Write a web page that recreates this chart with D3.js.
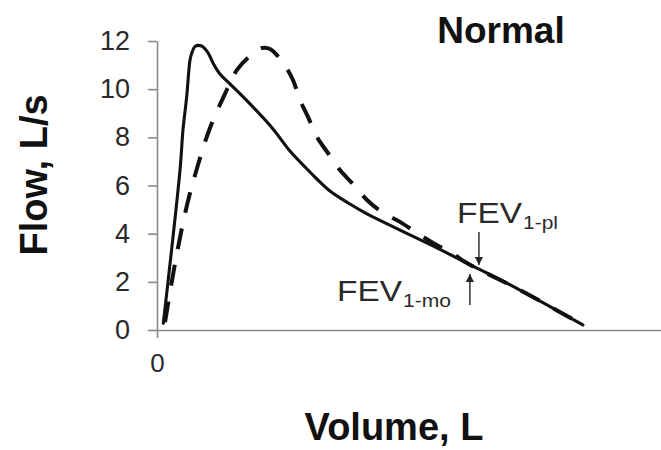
<!DOCTYPE html>
<html>
<head>
<meta charset="utf-8">
<script src="https://cdn.jsdelivr.net/npm/d3@7"></script>
<style>
  html, body { margin: 0; padding: 0; background: #fff; }
  svg { display: block; }
  text { font-family: Arial, "Liberation Sans", sans-serif; }
</style>
</head>
<body>
<script>
// Flow-volume loops: solid = measured curve, dashed = comparison curve
const solidVolume = [0.089, 0.324, 0.366, 0.418, 0.465, 0.489, 0.535, 0.63, 0.723, 0.789, 0.887, 1.028, 1.31, 1.634, 1.873, 2.155, 2.437, 2.718, 2.958, 3.423, 3.887, 4.366, 5.113, 6.0];
const solidFlow   = [0.28, 6.64, 8.31, 9.68, 11.21, 11.49, 11.77, 11.79, 11.49, 11.09, 10.63, 10.22, 9.39, 8.35, 7.43, 6.56, 5.77, 5.23, 4.82, 4.15, 3.49, 2.78, 1.66, 0.21];

const dashedVolume = [0.113, 0.268, 0.423, 0.577, 0.746, 0.944, 1.127, 1.31, 1.479, 1.592, 1.775, 1.915, 2.014, 2.127, 2.254, 2.408, 2.577, 2.761, 2.958, 3.169, 3.423, 3.662, 3.915, 4.169, 4.366, 5.113, 6.0];
const dashedFlow   = [0.33, 2.99, 5.19, 6.85, 8.39, 9.72, 10.8, 11.38, 11.71, 11.67, 11.09, 10.38, 9.55, 8.85, 8.01, 7.35, 6.64, 6.06, 5.4, 4.9, 4.49, 4.03, 3.57, 3.16, 2.78, 1.66, 0.21];

const yTicks = [0, 2, 4, 6, 8, 10, 12];
const xTicks = [0];

const W = 661, H = 450;
const svg = d3.select("body").append("svg").attr("width", W).attr("height", H);

const x = d3.scaleLinear().domain([0, 7.1]).range([157, 661]);
const y = d3.scaleLinear().domain([0, 12]).range([330, 41]);

const axisColor = "#8a8a8a";
const textColor = "#2a2a2a";

// y axis
const gy = svg.append("g").attr("transform", `translate(${x(0)},0)`)
  .call(d3.axisLeft(y).tickValues(yTicks).tickSize(9).tickPadding(18).tickSizeOuter(0));
gy.select(".domain").attr("stroke", axisColor).attr("stroke-width", 1.6);
gy.selectAll(".tick line").attr("stroke", axisColor).attr("stroke-width", 1.6);
gy.selectAll(".tick text").attr("fill", textColor).attr("font-size", 27);

// x axis
const gx = svg.append("g").attr("transform", `translate(0,${y(0)})`)
  .call(d3.axisBottom(x).tickValues(xTicks).tickSize(8).tickPadding(16).tickSizeOuter(0));
gx.select(".domain").attr("stroke", axisColor).attr("stroke-width", 1.6);
gx.selectAll(".tick line").attr("stroke", axisColor).attr("stroke-width", 1.6);
gx.selectAll(".tick text").attr("fill", textColor).attr("font-size", 26);

// curves
const line = d3.line()
  .x(d => x(d[0]))
  .y(d => y(d[1]))
  .curve(d3.curveCatmullRom.alpha(0.5));

const solidData = solidVolume.map((v, i) => [v, solidFlow[i]]);
const dashedData = dashedVolume.map((v, i) => [v, dashedFlow[i]]);

svg.append("path").datum(dashedData)
  .attr("d", line)
  .attr("fill", "none")
  .attr("stroke", "#111")
  .attr("stroke-width", 4)
  .attr("stroke-dasharray", "21,16");

svg.append("path").datum(solidData)
  .attr("d", line)
  .attr("fill", "none")
  .attr("stroke", "#111")
  .attr("stroke-width", 3.1)
  .attr("stroke-linecap", "round");

// arrowheads
const defs = svg.append("defs");
defs.append("marker")
  .attr("id", "arrow")
  .attr("viewBox", "0 0 10 10")
  .attr("refX", 10).attr("refY", 5)
  .attr("markerWidth", 8).attr("markerHeight", 8)
  .attr("markerUnits", "userSpaceOnUse")
  .attr("orient", "auto")
  .append("path").attr("d", "M0,0 L10,5 L0,10 Z").attr("fill", "#222");

// FEV1 annotations
const fevPl = { v: 4.535, from: 4.07, to: 2.70 };
const fevMo = { v: 4.408, from: 1.04, to: 2.33 };

svg.append("line")
  .attr("x1", x(fevPl.v)).attr("x2", x(fevPl.v))
  .attr("y1", y(fevPl.from)).attr("y2", y(fevPl.to))
  .attr("stroke", "#222").attr("stroke-width", 1.4)
  .attr("marker-end", "url(#arrow)");

svg.append("line")
  .attr("x1", x(fevMo.v)).attr("x2", x(fevMo.v))
  .attr("y1", y(fevMo.from)).attr("y2", y(fevMo.to))
  .attr("stroke", "#222").attr("stroke-width", 1.4)
  .attr("marker-end", "url(#arrow)");

function fevLabel(xPos, yPos, sub, subWidth) {
  const t = svg.append("text")
    .attr("x", xPos).attr("y", yPos)
    .attr("fill", textColor);
  t.append("tspan").attr("font-size", 29).attr("textLength", 65).attr("lengthAdjust", "spacingAndGlyphs").text("FEV");
  t.append("tspan").attr("font-size", 18).attr("dx", 1).attr("dy", 6)
    .attr("textLength", subWidth).attr("lengthAdjust", "spacingAndGlyphs").text(sub);
}
fevLabel(457, 223, "1-pl", 35);
fevLabel(337, 301, "1-mo", 48);

// title
svg.append("text")
  .attr("x", 501).attr("y", 43)
  .attr("text-anchor", "middle")
  .attr("font-size", 37).attr("font-weight", "bold")
  .attr("fill", "#111")
  .text("Normal");

// axis titles
svg.append("text")
  .attr("x", 394).attr("y", 440)
  .attr("text-anchor", "middle")
  .attr("font-size", 38).attr("font-weight", "bold")
  .attr("fill", "#111")
  .text("Volume, L");

svg.append("text")
  .attr("transform", "translate(47,175) rotate(-90)")
  .attr("text-anchor", "middle")
  .attr("font-size", 38).attr("font-weight", "bold")
  .attr("fill", "#111")
  .text("Flow, L/s");
</script>
</body>
</html>
